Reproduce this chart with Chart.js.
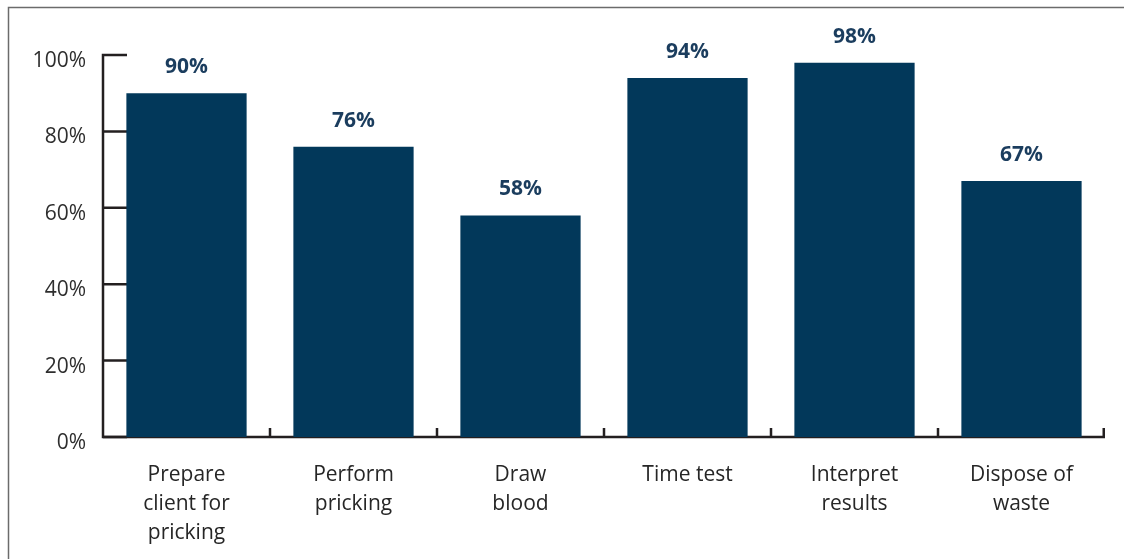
<!DOCTYPE html>
<html>
<head>
<meta charset="utf-8">
<script src="https://cdn.jsdelivr.net/npm/chart.js@4.4.0/dist/chart.umd.min.js"></script>
<style>
  html, body { margin: 0; padding: 0; background: #fff; }
  #wrap { width: 1124px; height: 559px; position: relative; }
</style>
</head>
<body>
<div id="wrap"><canvas id="chart"></canvas></div>
<script>
// data
const categories = [
    ["Prepare", "client for", "pricking"],
    ["Perform", "pricking"],
    ["Draw", "blood"],
    ["Time test"],
    ["Interpret", "results"],
    ["Dispose of", "waste"]
];
const percentValues = [90, 76, 58, 94, 98, 67];
const yTicks = [0, 20, 40, 60, 80, 100];

const barColor = "#02385A";
const axisColor = "#231F20";
const fontFamily = "'Open Sans', 'Noto Sans', sans-serif";

// frame + axis lines with inward ticks, drawn under the bars
const axesPlugin = {
    id: "axesPlugin",
    beforeDatasetsDraw(chart) {
        const { ctx, chartArea, scales } = chart;
        const x = scales.x, y = scales.y;
        ctx.save();

        // outer frame (top + left only)
        ctx.strokeStyle = "#6b6b6b";
        ctx.lineWidth = 1.5;
        ctx.beginPath();
        ctx.moveTo(1124, 7.5);
        ctx.lineTo(8.5, 7.5);
        ctx.lineTo(8.5, 559);
        ctx.stroke();

        ctx.strokeStyle = axisColor;
        ctx.lineWidth = 2.5;
        ctx.lineCap = "butt";
        const left = chartArea.left, bottom = y.getPixelForValue(0);

        // y axis + ticks pointing inward
        ctx.beginPath();
        ctx.moveTo(left, y.getPixelForValue(100) - 1.25);
        ctx.lineTo(left, bottom + 1.25);
        yTicks.forEach(v => {
            const py = y.getPixelForValue(v);
            ctx.moveTo(left, py);
            ctx.lineTo(left + 24, py);
        });
        ctx.stroke();

        // x axis + boundary ticks pointing up
        ctx.beginPath();
        ctx.moveTo(left, bottom);
        ctx.lineTo(chartArea.right, bottom);
        const n = categories.length;
        for (let i = 1; i <= n; i++) {
            const px = i < n
                ? (x.getPixelForValue(i - 1) + x.getPixelForValue(i)) / 2
                : chartArea.right - 1.25;
            ctx.moveTo(px, bottom);
            ctx.lineTo(px, bottom - 9);
        }
        ctx.stroke();
        ctx.restore();
    },
    afterDatasetsDraw(chart) {
        const { ctx } = chart;
        const meta = chart.getDatasetMeta(0);
        ctx.save();
        ctx.font = "bold 21px " + fontFamily;
        ctx.fillStyle = "#1B3D5E";
        ctx.textAlign = "center";
        ctx.textBaseline = "middle";
        meta.data.forEach((bar, i) => {
            ctx.fillText(percentValues[i] + "%", bar.x, bar.y - 26);
        });
        ctx.restore();
    }
};

new Chart(document.getElementById("chart"), {
    type: "bar",
    data: {
        labels: categories,
        datasets: [{
            data: percentValues,
            backgroundColor: barColor,
            borderWidth: 0,
            categoryPercentage: 0.72,
            barPercentage: 1.0
        }]
    },
    options: {
        responsive: true,
        maintainAspectRatio: false,
        animation: false,
        layout: { padding: { top: 55, right: 19, left: 0, bottom: 0 } },
        plugins: { legend: { display: false }, tooltip: { enabled: false } },
        scales: {
            y: {
                min: 0,
                max: 100,
                afterFit(scale) { scale.width = 103; },
                grid: { display: false, drawTicks: false },
                border: { display: false },
                ticks: {
                    stepSize: 20,
                    padding: 17,
                    labelOffset: 6,
                    color: "#2e2e2e",
                    font: { family: fontFamily, size: 21 },
                    callback: v => v + "%"
                }
            },
            x: {
                afterFit(scale) { scale.height = 559 - 437; },
                grid: { display: false, drawTicks: false },
                border: { display: false },
                ticks: {
                    padding: 24,
                    maxRotation: 0,
                    autoSkip: false,
                    color: "#262626",
                    font: { family: fontFamily, size: 21, lineHeight: 1.38 }
                }
            }
        }
    },
    plugins: [axesPlugin]
});
</script>
</body>
</html>
